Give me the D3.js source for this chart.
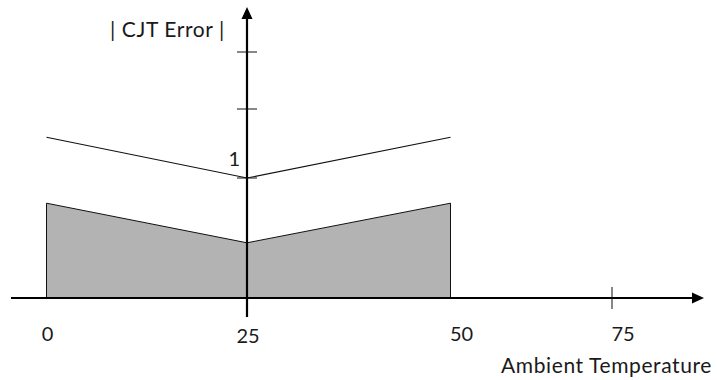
<!DOCTYPE html>
<html>
<head>
<meta charset="utf-8">
<script src="https://cdn.jsdelivr.net/npm/d3@7"></script>
<style>
  body { margin: 0; background: #fff; }
  svg text { font-family: Lato, "Open Sans", sans-serif; fill: #1a1a1a; }
</style>
</head>
<body>
<svg width="717" height="380"></svg>
<script>
// values (schematic chart)
var temps = [0, 25, 50];
var upperError = [1.34, 1.0, 1.34];   // thin line
var bandError = [0.79, 0.46, 0.79];   // grey band
var xTicks = [0, 25, 50, 75];
var xTickLabels = ["0", "25", "50", "75"];
var yTicks = [1, 1.575, 2.05];
var yTickLabels = ["1", "", ""];
var yTitle = "| CJT Error |";
var xTitle = "Ambient Temperature";

var svg = d3.select("svg");

// axis is drawn as a sketch: 75 sits closer than a linear scale would put it
var x = d3.scaleLinear().domain([0, 25, 50, 75]).range([46.5, 247, 450.5, 612]);
var y = d3.scaleLinear().domain([0, 1]).range([298, 178]);

var x0 = x(25), y0 = y(0);

var bandData = temps.map(function(t, i){ return {t: t, v: bandError[i]}; });
var lineData = temps.map(function(t, i){ return {t: t, v: upperError[i]}; });

// grey band
svg.append("path")
  .datum(bandData)
  .attr("d", d3.area()
    .x(function(d){ return x(d.t); })
    .y0(y0)
    .y1(function(d){ return y(d.v); }))
  .attr("fill", "#b3b3b3")
  .attr("stroke", "#111")
  .attr("stroke-width", 1);

// upper line
svg.append("path")
  .datum(lineData)
  .attr("d", d3.line()
    .x(function(d){ return x(d.t); })
    .y(function(d){ return y(d.v); }))
  .attr("fill", "none")
  .attr("stroke", "#111")
  .attr("stroke-width", 1.1);

// x axis with arrow
svg.append("line")
  .attr("x1", 11).attr("x2", 694)
  .attr("y1", y0).attr("y2", y0)
  .attr("stroke", "#000").attr("stroke-width", 2.2);
svg.append("path")
  .attr("d", "M692," + (y0 - 5.5) + "L704," + y0 + "L692," + (y0 + 5.5) + "Z")
  .attr("fill", "#000");

// y axis with arrow
svg.append("line")
  .attr("x1", x0).attr("x2", x0)
  .attr("y1", 317).attr("y2", 17)
  .attr("stroke", "#000").attr("stroke-width", 2.2);
svg.append("path")
  .attr("d", "M" + (x0 - 5.5) + ",19L" + x0 + ",7L" + (x0 + 5.5) + ",19Z")
  .attr("fill", "#000");

// x ticks (25 is covered by the y axis)
svg.selectAll(".xtick")
  .data(xTicks.filter(function(d){ return d == 75; }))
  .enter().append("line")
  .attr("class", "xtick")
  .attr("x1", function(d){ return x(d); })
  .attr("x2", function(d){ return x(d); })
  .attr("y1", y0 - 11).attr("y2", y0 + 11)
  .attr("stroke", "#111").attr("stroke-width", 1);

svg.selectAll(".xlab")
  .data(xTicks)
  .enter().append("text")
  .attr("class", "xlab")
  .attr("x", function(d){ return x(d) + (d >= 50 ? 11 : 1); })
  .attr("y", function(d, i){ return i == 1 ? 343 : 341; })
  .attr("text-anchor", "middle")
  .style("font-size", "20px")
  .text(function(d, i){ return xTickLabels[i]; });

// y ticks
svg.selectAll(".ytick")
  .data(yTicks)
  .enter().append("line")
  .attr("class", "ytick")
  .attr("x1", x0 - 10).attr("x2", x0 + 10)
  .attr("y1", function(d){ return y(d); })
  .attr("y2", function(d){ return y(d); })
  .attr("stroke", "#111").attr("stroke-width", 1);

svg.selectAll(".ylab")
  .data(yTicks)
  .enter().append("text")
  .attr("class", "ylab")
  .attr("x", x0 - 7)
  .attr("y", function(d){ return y(d) - 12; })
  .attr("text-anchor", "end")
  .style("font-size", "20px")
  .text(function(d, i){ return yTickLabels[i]; });

// titles
svg.append("text")
  .attr("x", 110).attr("y", 37)
  .style("font-size", "21px")
  .style("letter-spacing", "0.6px")
  .text(yTitle);

svg.append("text")
  .attr("x", 712).attr("y", 373)
  .attr("text-anchor", "end")
  .style("font-size", "21px")
  .style("letter-spacing", "0.6px")
  .text(xTitle);
</script>
</body>
</html>
